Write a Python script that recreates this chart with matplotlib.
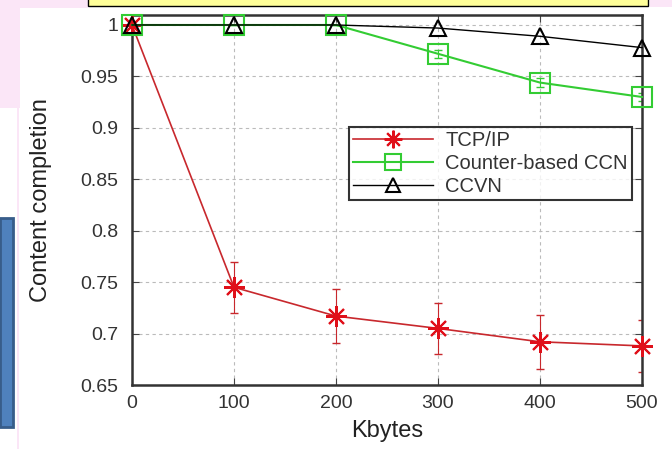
import matplotlib.pyplot as plt
from matplotlib.patches import Rectangle

plt.rcParams['font.family'] = ['Liberation Sans', 'DejaVu Sans']

# data
kbytes = [0, 100, 200, 300, 400, 500]
tcp = [1.0, 0.745, 0.717, 0.705, 0.692, 0.688]
tcp_err = [0.0, 0.025, 0.026, 0.025, 0.026, 0.025]
ccn = [1.0, 1.0, 1.0, 0.972, 0.944, 0.930]
ccn_err = [0.0, 0.0, 0.0, 0.004, 0.004, 0.004]
ccvn = [1.0, 1.0, 1.0, 0.997, 0.989, 0.978]
yticks = [0.65, 0.7, 0.75, 0.8, 0.85, 0.9, 0.95, 1]
ytick_labels = ['0.65', '0.7', '0.75', '0.8', '0.85', '0.9', '0.95', '1']

W, H = 672, 449
fig = plt.figure(figsize=(W / 100, H / 100), dpi=100)

def box(x, y, w, h, fc, ec='none', lw=0):
    # rectangle in pixel coords (top-left origin)
    fig.patches.append(Rectangle((x / W, 1 - (y + h) / H), w / W, h / H,
                                 transform=fig.transFigure, fc=fc, ec=ec,
                                 lw=lw, zorder=0))

# slide decorations around the chart
box(0, 0, 88, 8, '#fbe6f7')
box(0, 0, 20, 108, '#fbe6f7')
box(650, 0, 22, 7, '#fbe6f7')
box(17, 108, 1.5, 341, '#fbe6f7')
box(88, -2, 560, 8, '#ffff99', 'black', 1.0)
box(0, 218, 13, 209, '#4f81bd', '#385d8a', 2.0)

ax = fig.add_axes([132 / W, 1 - 385 / H, 510 / W, 370 / H])
ax.set_facecolor('white')

red = '#c8282d'
green = '#33cc33'
ax.errorbar(kbytes, tcp, yerr=tcp_err, fmt='none', ecolor=red,
            elinewidth=0.8, capsize=3, zorder=2)
l1, = ax.plot(kbytes, tcp, color=red, lw=1.2, marker=(8, 2, 0), ms=15,
              mec='#e0101a', mew=1.5, label='TCP/IP', zorder=3, clip_on=False)
ax.errorbar(kbytes, ccn, yerr=ccn_err, fmt='none', ecolor=green,
            elinewidth=0.8, capsize=3, zorder=2)
l2, = ax.plot(kbytes, ccn, color=green, lw=1.5, marker='s', ms=14, mfc='none',
              mec=green, mew=1.5, label='Counter-based CCN', zorder=4,
              clip_on=False)
l3, = ax.plot(kbytes, ccvn, color='black', lw=1.0, marker='^', ms=12,
              mfc='none', mec='black', mew=1.5, label='CCVN', zorder=5,
              clip_on=False)

ax.set_xlim(0, 500)
ax.set_ylim(0.65, 1.0097)
ax.set_xticks(kbytes)
ax.set_yticks(yticks)
ax.set_yticklabels(ytick_labels)
ax.tick_params(labelsize=14, direction='in', length=5, color='#444444',
               labelcolor='#333333', right=True, top=True)
ax.tick_params(axis='y', pad=10)
ax.tick_params(axis='x', pad=7)
ax.grid(True, ls=(0, (3, 3)), color='#bbbbbb', lw=0.8)
for s in ax.spines.values():
    s.set_linewidth(1.8)
    s.set_color('#333333')

ax.set_xlabel('Kbytes', fontsize=17, labelpad=6, color='#222222')
ax.set_ylabel('Content completion', fontsize=17, labelpad=20,
              color='#222222')

leg = ax.legend(handles=[l1, l2, l3], loc='upper right',
                bbox_to_anchor=(0.98, 0.697), fontsize=14.5,
                frameon=True, fancybox=False, edgecolor='black',
                borderpad=0.2, handlelength=4.0, labelspacing=0.2,
                handletextpad=0.6, borderaxespad=0, markerscale=0.85)
leg.get_frame().set_linewidth(1.5)
for t in leg.get_texts():
    t.set_color('#333333')

fig.savefig('out.png', dpi=100)
